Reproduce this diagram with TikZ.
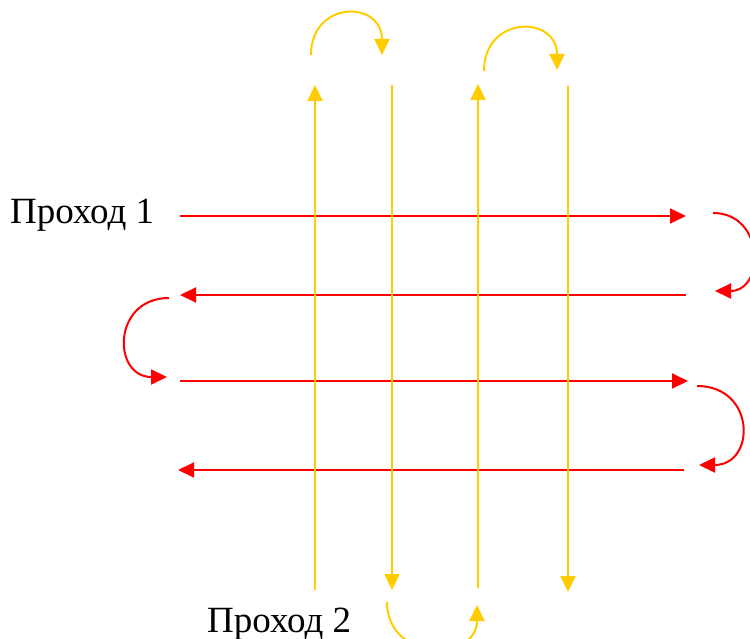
\documentclass[tikz,border=0pt]{standalone}
\usepackage{fontspec}
\setmainfont{Liberation Serif}
\usetikzlibrary{arrows.meta}
\definecolor{passred}{HTML}{FF0000}
\definecolor{passyel}{HTML}{FFCC00}
\begin{document}
\begin{tikzpicture}[x=1pt,y=-1pt,
  redline/.style={draw=passred,line width=2pt,-{Triangle[length=16pt,width=15pt]}},
  yelline/.style={draw=passyel,line width=2pt,-{Triangle[length=16pt,width=15pt]}},
  lbl/.style={inner sep=0pt,anchor=base west,font=\fontsize{37}{40}\selectfont}]
\useasboundingbox (0,0) rectangle (750,639);
% labels
\node[lbl] (p1) at (10,224) {Проход 1};
\node[lbl] (p2) at (207,632) {Проход 2};
% red horizontal passes
\coordinate (r1a) at (180,216); \coordinate (r1b) at (686,216);
\coordinate (r2a) at (686,295); \coordinate (r2b) at (180,295);
\coordinate (r3a) at (180,381); \coordinate (r3b) at (688,381);
\coordinate (r4a) at (684,470); \coordinate (r4b) at (178,470);
\draw[redline] (r1a) -- (r1b);
\draw[redline] (r2a) -- (r2b);
\draw[redline] (r3a) -- (r3b);
\draw[redline] (r4a) -- (r4b);
% red turns
\coordinate (rt1a) at (713,213); \coordinate (rt1b) at (715,291);
\coordinate (rt2a) at (169,298); \coordinate (rt2b) at (167,377);
\coordinate (rt3a) at (697,386); \coordinate (rt3b) at (699,465);
\draw[redline] (rt1a) .. controls (765,213) and (765,291) .. (rt1b);
\draw[redline] (rt2a) .. controls (112,298) and (112,377) .. (rt2b);
\draw[redline] (rt3a) .. controls (756,386) and (756,465) .. (rt3b);
% yellow vertical passes
\coordinate (y1a) at (315,590); \coordinate (y1b) at (315,85);
\coordinate (y2a) at (392,85);  \coordinate (y2b) at (392,590);
\coordinate (y3a) at (478,588); \coordinate (y3b) at (478,84);
\coordinate (y4a) at (568,86);  \coordinate (y4b) at (568,592);
\draw[yelline] (y1a) -- (y1b);
\draw[yelline] (y2a) -- (y2b);
\draw[yelline] (y3a) -- (y3b);
\draw[yelline] (y4a) -- (y4b);
% yellow turns
\coordinate (yt1a) at (311,55); \coordinate (yt1b) at (382,55);
\coordinate (yt2a) at (484,71); \coordinate (yt2b) at (557,70);
\coordinate (yt3a) at (387,602); \coordinate (yt3b) at (477,605);
\draw[yelline] (yt1a) .. controls (311,0) and (382,0) .. (yt1b);
\draw[yelline] (yt2a) .. controls (484,15) and (557,15) .. (yt2b);
\draw[yelline] (yt3a) .. controls (387,662) and (477,662) .. (yt3b);
\end{tikzpicture}
\end{document}
